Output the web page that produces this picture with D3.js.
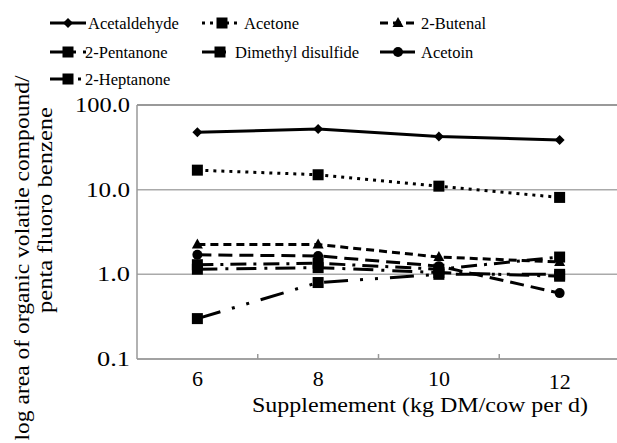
<!DOCTYPE html>
<html>
<head>
<meta charset="utf-8">
<script src="https://cdn.jsdelivr.net/npm/d3@7"></script>
<style>
  body { margin: 0; background: #fff; }
</style>
</head>
<body>
<svg id="chart" width="617" height="443"></svg>
<script>
// data
var supplements = ["6", "8", "10", "12"];
var yTicks = [0.1, 1, 10, 100];
var acetaldehyde = [47.5, 52, 42.5, 38.5];
var acetone = [17, 15, 11, 8.1];
var butenal = [2.25, 2.25, 1.6, 1.4];
var pentanone = [1.3, 1.35, 1.15, 1.6];
var dimethylDisulfide = [0.3, 0.8, 1.0, 1.0];
var acetoin = [1.7, 1.65, 1.25, 0.6];
var heptanone = [1.15, 1.2, 1.05, 0.95];

var series = [
  {name: "Acetaldehyde", values: acetaldehyde, dash: null, marker: "diamond"},
  {name: "Acetone", values: acetone, dash: "3,5", marker: "square"},
  {name: "2-Butenal", values: butenal, dash: "8,5", marker: "triangle"},
  {name: "2-Pentanone", values: pentanone, dash: "16,7,3,7", marker: "square"},
  {name: "Dimethyl disulfide", values: dimethylDisulfide, dash: "24,12,3,12,3,12", marker: "square"},
  {name: "Acetoin", values: acetoin, dash: "14,7", marker: "circle"},
  {name: "2-Heptanone", values: heptanone, dash: "20,8,3,8", marker: "square"}
];

var FONT = "'Liberation Serif', 'Times New Roman', serif";
var svg = d3.select("#chart");
var plotL = 137, plotR = 620, plotT = 105, plotB = 359;

var x = d3.scaleBand().domain(supplements).range([plotL, plotR]).padding(0);
var y = d3.scaleLog().domain([0.1, 100]).range([plotB, plotT]);

function label(sel, size) {
  return sel.style("font-family", FONT).style("font-size", size + "px").attr("fill", "#000");
}

// grid
svg.append("g").selectAll("line")
  .data(yTicks)
  .join("line")
  .attr("x1", plotL).attr("x2", plotR)
  .attr("y1", function(d){return y(d);}).attr("y2", function(d){return y(d);})
  .attr("stroke", function(d){return d == 100 ? "#777" : "#aaa";})
  .attr("stroke-width", 1.5);

// left axis line + labels
svg.append("line")
  .attr("x1", plotL).attr("x2", plotL).attr("y1", plotT).attr("y2", plotB)
  .attr("stroke", "#999").attr("stroke-width", 1.5);

label(svg.append("g").selectAll("text")
  .data(yTicks)
  .join("text")
  .attr("x", 130)
  .attr("y", function(d){return y(d) + 7;})
  .attr("text-anchor", "end")
  .attr("textLength", function(d){return d >= 100 ? 55 : d >= 10 ? 44 : 33;})
  .attr("lengthAdjust", "spacingAndGlyphs")
  .text(function(d){return d.toFixed(1);}), 22);

// bottom axis
var xAxis = svg.append("g").attr("transform", "translate(0," + plotB + ")");
xAxis.append("line").attr("x1", plotL).attr("x2", plotR).attr("stroke", "#999").attr("stroke-width", 1.5);
xAxis.selectAll(".tk")
  .data(supplements.slice(1))
  .join("line")
  .attr("class", "tk")
  .attr("x1", function(d){return x(d);}).attr("x2", function(d){return x(d);})
  .attr("y1", 0).attr("y2", -5)
  .attr("stroke", "#999").attr("stroke-width", 1.5);
label(xAxis.selectAll("text")
  .data(supplements)
  .join("text")
  .attr("x", function(d){return x(d) + x.bandwidth() / 2;})
  .attr("y", function(d){return d == "12" ? 30 : 27;})
  .attr("text-anchor", "middle")
  .text(function(d){return d;}), 22);

label(svg.append("text")
  .attr("x", 420).attr("y", 412)
  .attr("text-anchor", "middle")
  .attr("textLength", 336)
  .attr("lengthAdjust", "spacingAndGlyphs")
  .text("Supplemement (kg DM/cow per d)"), 22);

label(svg.append("text")
  .attr("transform", "translate(29,258) rotate(-90)")
  .attr("text-anchor", "middle")
  .attr("textLength", 365)
  .attr("lengthAdjust", "spacingAndGlyphs")
  .text("log area of organic volatile compound/"), 22);
label(svg.append("text")
  .attr("transform", "translate(52,210) rotate(-90)")
  .attr("text-anchor", "middle")
  .attr("textLength", 206)
  .attr("lengthAdjust", "spacingAndGlyphs")
  .text("penta fluoro benzene"), 22);

// markers
function drawMarker(g, type, cx, cy) {
  if (type == "diamond") {
    g.append("path").attr("d", "M" + cx + "," + (cy - 5) + "L" + (cx + 5) + "," + cy + "L" + cx + "," + (cy + 5) + "L" + (cx - 5) + "," + cy + "Z");
  } else if (type == "square") {
    g.append("rect").attr("x", cx - 5.5).attr("y", cy - 5.5).attr("width", 11).attr("height", 11);
  } else if (type == "triangle") {
    g.append("path").attr("d", "M" + cx + "," + (cy - 6) + "L" + (cx + 5.5) + "," + (cy + 4) + "L" + (cx - 5.5) + "," + (cy + 4) + "Z");
  } else {
    g.append("circle").attr("cx", cx).attr("cy", cy).attr("r", 5);
  }
}

var line = d3.line()
  .x(function(d, i){return x(supplements[i]) + x.bandwidth() / 2;})
  .y(function(d){return y(d);});

series.forEach(function(s) {
  var g = svg.append("g").attr("fill", "#000");
  g.append("path")
    .attr("d", line(s.values))
    .attr("fill", "none")
    .attr("stroke", "#000")
    .attr("stroke-width", 3)
    .attr("stroke-dasharray", s.dash);
  s.values.forEach(function(v, i) {
    drawMarker(g, s.marker, x(supplements[i]) + x.bandwidth() / 2, y(v));
  });
});

// legend
var legendPos = [[50, 23], [202, 23], [380, 23], [50, 52], [202, 52], [380, 52], [50, 79]];
var legendTextX = [88, 244, 421, 85, 235, 421, 85];
series.forEach(function(s, i) {
  var lx = legendPos[i][0], ly = legendPos[i][1];
  var g = svg.append("g").attr("fill", "#000");
  var w = (i == 1) ? 40 : 36;
  g.append("line")
    .attr("x1", lx).attr("x2", lx + w).attr("y1", ly).attr("y2", ly)
    .attr("stroke", "#000").attr("stroke-width", 3)
    .attr("stroke-dasharray", s.dash);
  drawMarker(g, s.marker, lx + (i >= 3 && s.marker == "square" ? 18 : w / 2), ly);
  label(g.append("text")
    .attr("x", legendTextX[i]).attr("y", ly + 6)
    .text(s.name), 16.5);
});
</script>
</body>
</html>
